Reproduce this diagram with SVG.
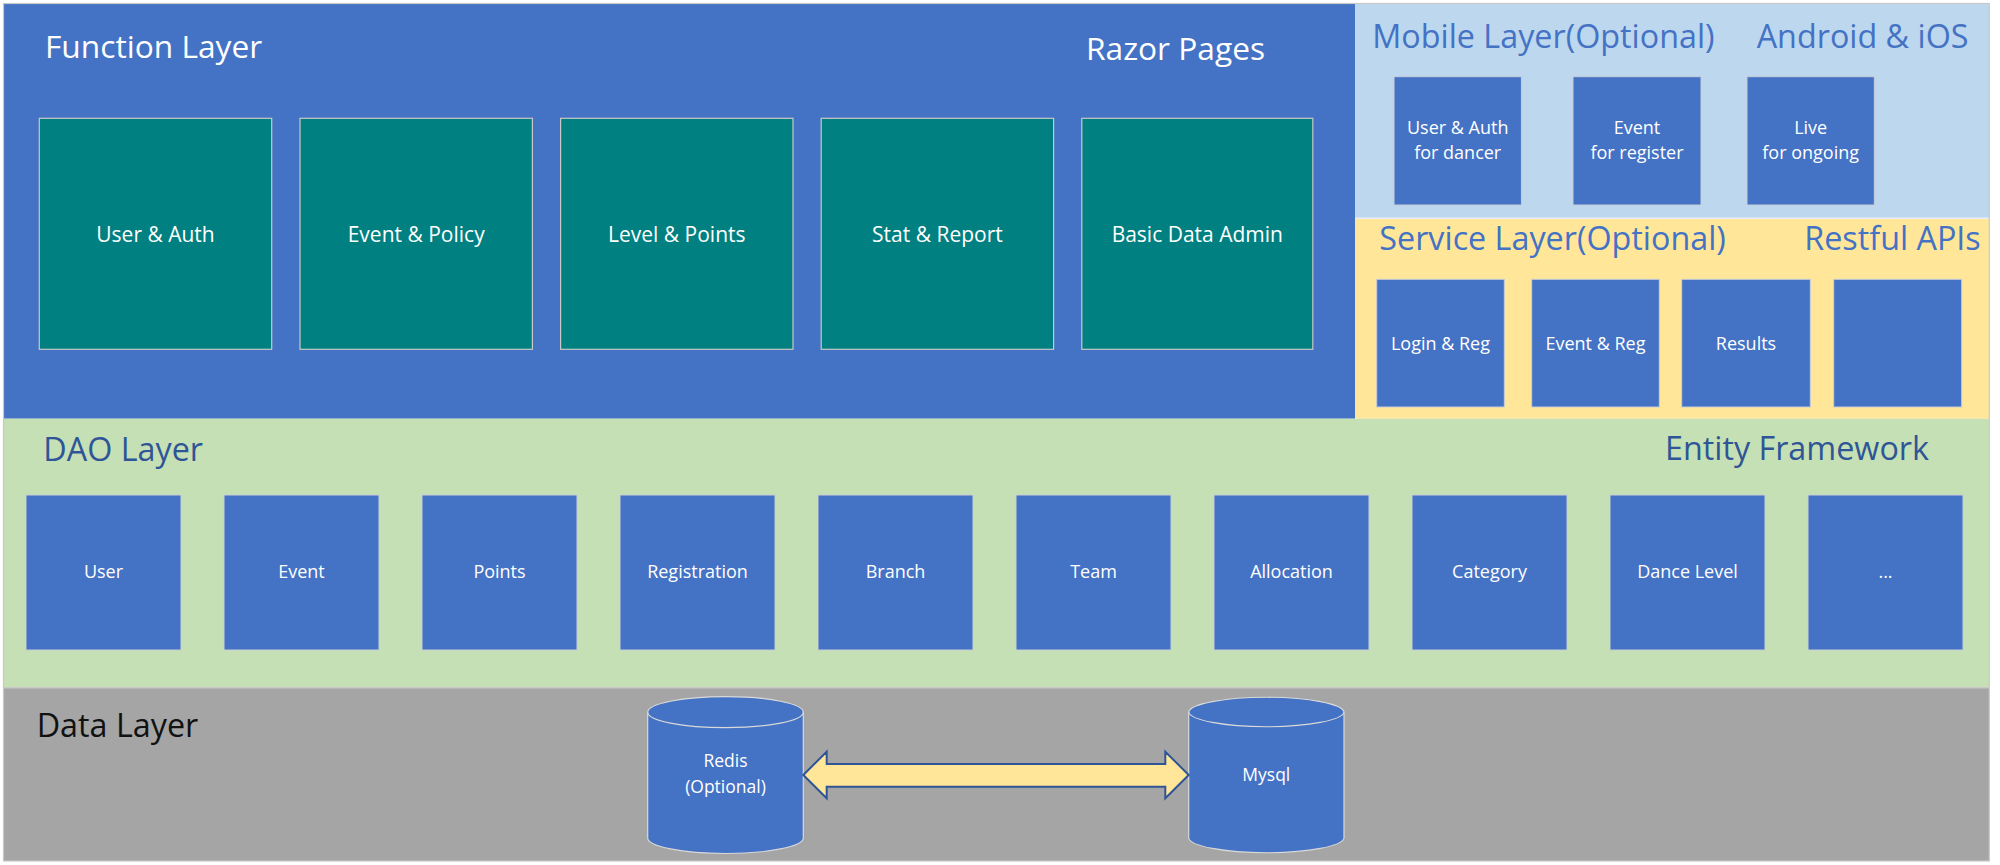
<svg xmlns="http://www.w3.org/2000/svg" width="2000" height="865" viewBox="0 0 2000 865">
<style>
text { font-family: "Open Sans", "Liberation Sans", sans-serif; }
.title { font-size: 32.3px; }
.w { fill: #FFFFFF; font-size: 31.7px; }
.lbl { font-size: 18px; fill: #FFFFFF; text-anchor: middle; }
.flbl { font-size: 21px; fill: #FFFFFF; text-anchor: middle; }
.teal { fill: #008080; stroke: #C8C8C8; stroke-width: 1.2; }
.bb { fill: #4472C4; stroke: #C9CED8; stroke-width: 1; }
.cyl { fill: #4472C4; stroke: #D9D9D9; stroke-width: 1.2; }
</style>
<rect x="0" y="0" width="2000" height="865" fill="#FFFFFF"/>
<g id="layers">
  <rect id="function-layer" x="3.5" y="3.5" width="1351.5" height="415.2" fill="#4472C4"/>
  <rect id="mobile-layer" x="1355" y="3.5" width="634.3" height="214.8" fill="#BDD7EE"/>
  <rect id="service-layer" x="1355" y="218.3" width="634.3" height="200.4" fill="#FFE699"/>
  <line x1="1355" y1="218.3" x2="1989.3" y2="218.3" stroke="#E8EEF4" stroke-width="1.5"/>
  <rect id="dao-layer" x="3.5" y="418.7" width="1985.8" height="269" fill="#C5E0B4"/>
  <rect id="data-layer" x="3.5" y="687.7" width="1985.8" height="173.3" fill="#A5A5A5"/>
  <line x1="3.5" y1="687.7" x2="1989.3" y2="687.7" stroke="#C8C8C8" stroke-width="1.5"/>
  <rect x="3.5" y="3.5" width="1985.8" height="857.5" fill="none" stroke="#C8C8C8" stroke-width="1.2"/>
</g>
<g id="layer-titles">
  <text class="title w" x="45" y="58.3">Function Layer</text>
  <text class="title w" x="1086" y="60">Razor Pages</text>
  <text class="title" x="1372.3" y="48.3" fill="#4472C4">Mobile Layer(Optional)</text>
  <text class="title" x="1756.7" y="48.3" fill="#4472C4">Android &amp; iOS</text>
  <text class="title" x="1379.3" y="250" fill="#4472C4">Service Layer(Optional)</text>
  <text class="title" x="1804.3" y="250" fill="#4472C4">Restful APIs</text>
  <text class="title" x="43.3" y="460.7" fill="#2F5597">DAO Layer</text>
  <text class="title" x="1665" y="460" fill="#2F5597">Entity Framework</text>
  <text class="title" x="36.7" y="736.7" fill="#111111">Data Layer</text>
</g>
<g id="function-nodes">
  <g id="fn-user-auth"><rect class="teal" x="39.3" y="118.3" width="232.4" height="231"/><text class="flbl" x="155.5" y="241.5">User &amp; Auth</text></g>
  <g id="fn-event-policy"><rect class="teal" x="300" y="118.3" width="232.4" height="231"/><text class="flbl" x="416.2" y="241.5">Event &amp; Policy</text></g>
  <g id="fn-level-points"><rect class="teal" x="560.6" y="118.3" width="232.4" height="231"/><text class="flbl" x="676.8" y="241.5">Level &amp; Points</text></g>
  <g id="fn-stat-report"><rect class="teal" x="821.2" y="118.3" width="232.4" height="231"/><text class="flbl" x="937.4" y="241.5">Stat &amp; Report</text></g>
  <g id="fn-basic-data-admin"><rect class="teal" x="1081.8" y="118.3" width="231" height="231"/><text class="flbl" x="1197.3" y="241.5">Basic Data Admin</text></g>
</g>
<g id="mobile-nodes">
  <g id="mb-user-auth"><rect class="bb" x="1394" y="76.7" width="127.4" height="128.3"/><text class="lbl" x="1457.7" y="134.3">User &amp; Auth</text><text class="lbl" x="1457.7" y="159.3">for dancer</text></g>
  <g id="mb-event"><rect class="bb" x="1573" y="76.7" width="128" height="128.3"/><text class="lbl" x="1637" y="134.3">Event</text><text class="lbl" x="1637" y="159.3">for register</text></g>
  <g id="mb-live"><rect class="bb" x="1747" y="76.7" width="127.3" height="128.3"/><text class="lbl" x="1810.7" y="134.3">Live</text><text class="lbl" x="1810.7" y="159.3">for ongoing</text></g>
</g>
<g id="service-nodes">
  <g id="sv-login-reg"><rect class="bb" x="1376.7" y="279.3" width="127.6" height="127.7"/><text class="lbl" x="1440.5" y="350">Login &amp; Reg</text></g>
  <g id="sv-event-reg"><rect class="bb" x="1531.7" y="279.3" width="127.6" height="127.7"/><text class="lbl" x="1595.5" y="350">Event &amp; Reg</text></g>
  <g id="sv-results"><rect class="bb" x="1681.7" y="279.3" width="128.6" height="127.7"/><text class="lbl" x="1746" y="350">Results</text></g>
  <g id="sv-empty"><rect class="bb" x="1833.7" y="279.3" width="128" height="127.7"/></g>
</g>
<g id="dao-nodes">
  <g id="dao-user"><rect class="bb" x="26" y="495" width="155" height="155"/><text class="lbl" x="103.5" y="578.3">User</text></g>
  <g id="dao-event"><rect class="bb" x="224" y="495" width="155" height="155"/><text class="lbl" x="301.5" y="578.3">Event</text></g>
  <g id="dao-points"><rect class="bb" x="422" y="495" width="155" height="155"/><text class="lbl" x="499.5" y="578.3">Points</text></g>
  <g id="dao-registration"><rect class="bb" x="620" y="495" width="155" height="155"/><text class="lbl" x="697.5" y="578.3">Registration</text></g>
  <g id="dao-branch"><rect class="bb" x="818" y="495" width="155" height="155"/><text class="lbl" x="895.5" y="578.3">Branch</text></g>
  <g id="dao-team"><rect class="bb" x="1016" y="495" width="155" height="155"/><text class="lbl" x="1093.5" y="578.3">Team</text></g>
  <g id="dao-allocation"><rect class="bb" x="1214" y="495" width="155" height="155"/><text class="lbl" x="1291.5" y="578.3">Allocation</text></g>
  <g id="dao-category"><rect class="bb" x="1412" y="495" width="155" height="155"/><text class="lbl" x="1489.5" y="578.3">Category</text></g>
  <g id="dao-dance-level"><rect class="bb" x="1610" y="495" width="155" height="155"/><text class="lbl" x="1687.5" y="578.3">Dance Level</text></g>
  <g id="dao-more"><rect class="bb" x="1808" y="495" width="155" height="155"/><text class="lbl" x="1885.5" y="578.3">...</text></g>
</g>
<g id="data-nodes">
  <g id="redis">
    <path class="cyl" d="M647.7,712.2 A77.8,15.5 0 0 1 803.3,712.2 V838 A77.8,15.5 0 0 1 647.7,838 Z"/>
    <path d="M647.7,712.2 A77.8,15.5 0 0 0 803.3,712.2" fill="none" stroke="#D9D9D9" stroke-width="1.2"/>
    <text class="lbl" style="font-size:17.5px" x="725.5" y="767.3">Redis</text>
    <text class="lbl" style="font-size:17.5px" x="725.5" y="793.3">(Optional)</text>
  </g>
  <g id="mysql">
    <path class="cyl" d="M1188.7,712 A77.7,15.3 0 0 1 1344,712 V838 A77.7,15.3 0 0 1 1188.7,838 Z"/>
    <path d="M1188.7,712 A77.7,15.3 0 0 0 1344,712" fill="none" stroke="#D9D9D9" stroke-width="1.2"/>
    <text class="lbl" style="font-size:17.5px" x="1266.3" y="781">Mysql</text>
  </g>
</g>
<g id="connectors">
  <path id="redis-mysql" d="M803.3,775 L826.7,751.7 V764 H1165.3 V751.7 L1188.7,775 L1165.3,798.3 V786.7 H826.7 V798.3 Z" fill="#FFE699" stroke="#2F5597" stroke-width="2" stroke-linejoin="miter"/>
</g>
</svg>
